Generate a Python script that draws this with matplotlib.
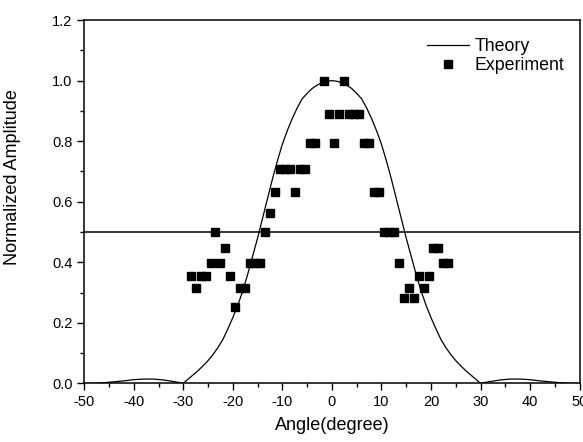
import matplotlib
matplotlib.use("Agg")
import matplotlib.pyplot as plt
from matplotlib.ticker import MultipleLocator

plt.rcParams["font.family"] = ["Liberation Sans", "DejaVu Sans"]
plt.rcParams["axes.unicode_minus"] = False

# theory curve
theory_x = [-50, -48, -46, -44, -42, -40, -38, -36, -34, -32,
            -30, -29, -28, -27, -26, -25, -24, -23, -22, -21,
            -20, -19, -18, -17, -16, -15, -14, -13, -12, -11,
            -10, -9, -8, -7, -6, -5, -4, -3, -2, -1,
            0, 1, 2, 3, 4, 5, 6, 7, 8, 9,
            10, 11, 12, 13, 14, 15, 16, 17, 18, 19,
            20, 21, 22, 23, 24, 25, 26, 27, 28, 29,
            30, 32, 34, 36, 38, 40, 42, 44, 46, 48, 50]
theory_y = [0.0, 0.0, 0.002, 0.005, 0.008, 0.012, 0.014, 0.014, 0.011, 0.006,
            0.0, 0.014, 0.028, 0.042, 0.058, 0.075, 0.095, 0.118, 0.145, 0.18,
            0.217, 0.258, 0.305, 0.36, 0.42, 0.48, 0.545, 0.61, 0.675, 0.735,
            0.79, 0.835, 0.875, 0.91, 0.94, 0.958, 0.974, 0.985, 0.993, 0.998,
            1.0, 0.998, 0.993, 0.985, 0.974, 0.958, 0.94, 0.91, 0.875, 0.835,
            0.79, 0.735, 0.675, 0.61, 0.545, 0.48, 0.42, 0.36, 0.305, 0.258,
            0.217, 0.18, 0.145, 0.118, 0.095, 0.075, 0.058, 0.042, 0.028, 0.014,
            0.0, 0.006, 0.011, 0.014, 0.014, 0.012, 0.008, 0.005, 0.002, 0.0, 0.0]

# measured points
exp_x = [-28.5, -27.5, -26.5, -25.5, -24.5, -23.5, -22.5, -21.5, -20.5, -19.5,
         -18.5, -17.5, -16.5, -15.5, -14.5, -13.5, -12.5, -11.5, -10.5, -9.5,
         -8.5, -7.5, -6.5, -5.5, -4.5, -3.5, -1.5, -0.5, 0.5, 1.5,
         2.5, 3.5, 4.5, 5.5, 6.5, 7.5, 8.5, 9.5, 10.5, 11.5,
         12.5, 13.5, 14.5, 15.5, 16.5, 17.5, 18.5, 19.5, 20.5, 21.5,
         22.5, 23.5]
exp_y = [0.355, 0.316, 0.355, 0.355, 0.398, 0.501, 0.398, 0.447, 0.355, 0.251,
         0.316, 0.316, 0.398, 0.398, 0.398, 0.501, 0.562, 0.631, 0.708, 0.708,
         0.708, 0.631, 0.708, 0.708, 0.794, 0.794, 1.0, 0.891, 0.794, 0.891,
         1.0, 0.891, 0.891, 0.891, 0.794, 0.794, 0.631, 0.631, 0.501, 0.501,
         0.501, 0.398, 0.282, 0.316, 0.282, 0.355, 0.316, 0.355, 0.447, 0.447,
         0.398, 0.398]

half_level = 0.5

fig = plt.figure(figsize=(5.83, 4.42), dpi=100)
ax = fig.add_axes([0.1444, 0.1328, 0.8498, 0.8217])

ax.plot(theory_x, theory_y, color="black", linewidth=0.9, label="Theory")
ax.plot(exp_x, exp_y, linestyle="none", marker="s", markersize=5.5,
        color="black", label="Experiment")
ax.axhline(half_level, color="black", linewidth=1.1)

ax.set_xlim(-50, 50)
ax.set_ylim(0, 1.2)
ax.xaxis.set_major_locator(MultipleLocator(10))
ax.xaxis.set_minor_locator(MultipleLocator(5))
ax.yaxis.set_major_locator(MultipleLocator(0.2))
ax.yaxis.set_minor_locator(MultipleLocator(0.1))
ax.yaxis.set_major_formatter(plt.FormatStrFormatter("%.1f"))
ax.tick_params(which="major", direction="out", length=5, width=1, labelsize=10.5)
ax.tick_params(which="minor", direction="out", length=3, width=1)
for s in ax.spines.values():
    s.set_linewidth(1.1)

ax.set_xlabel("Angle(degree)", fontsize=13, labelpad=6)
ax.set_ylabel("Normalized Amplitude", fontsize=13, labelpad=13)
ax.yaxis.set_label_coords(-0.128, 0.568)

ax.legend(loc="upper left", bbox_to_anchor=(0.692, 0.95), frameon=False,
          fontsize=12.8, handlelength=2.35, handletextpad=0.3,
          borderpad=0, borderaxespad=0, labelspacing=0.12, markerscale=1.15)

fig.savefig("out.png", dpi=100)
